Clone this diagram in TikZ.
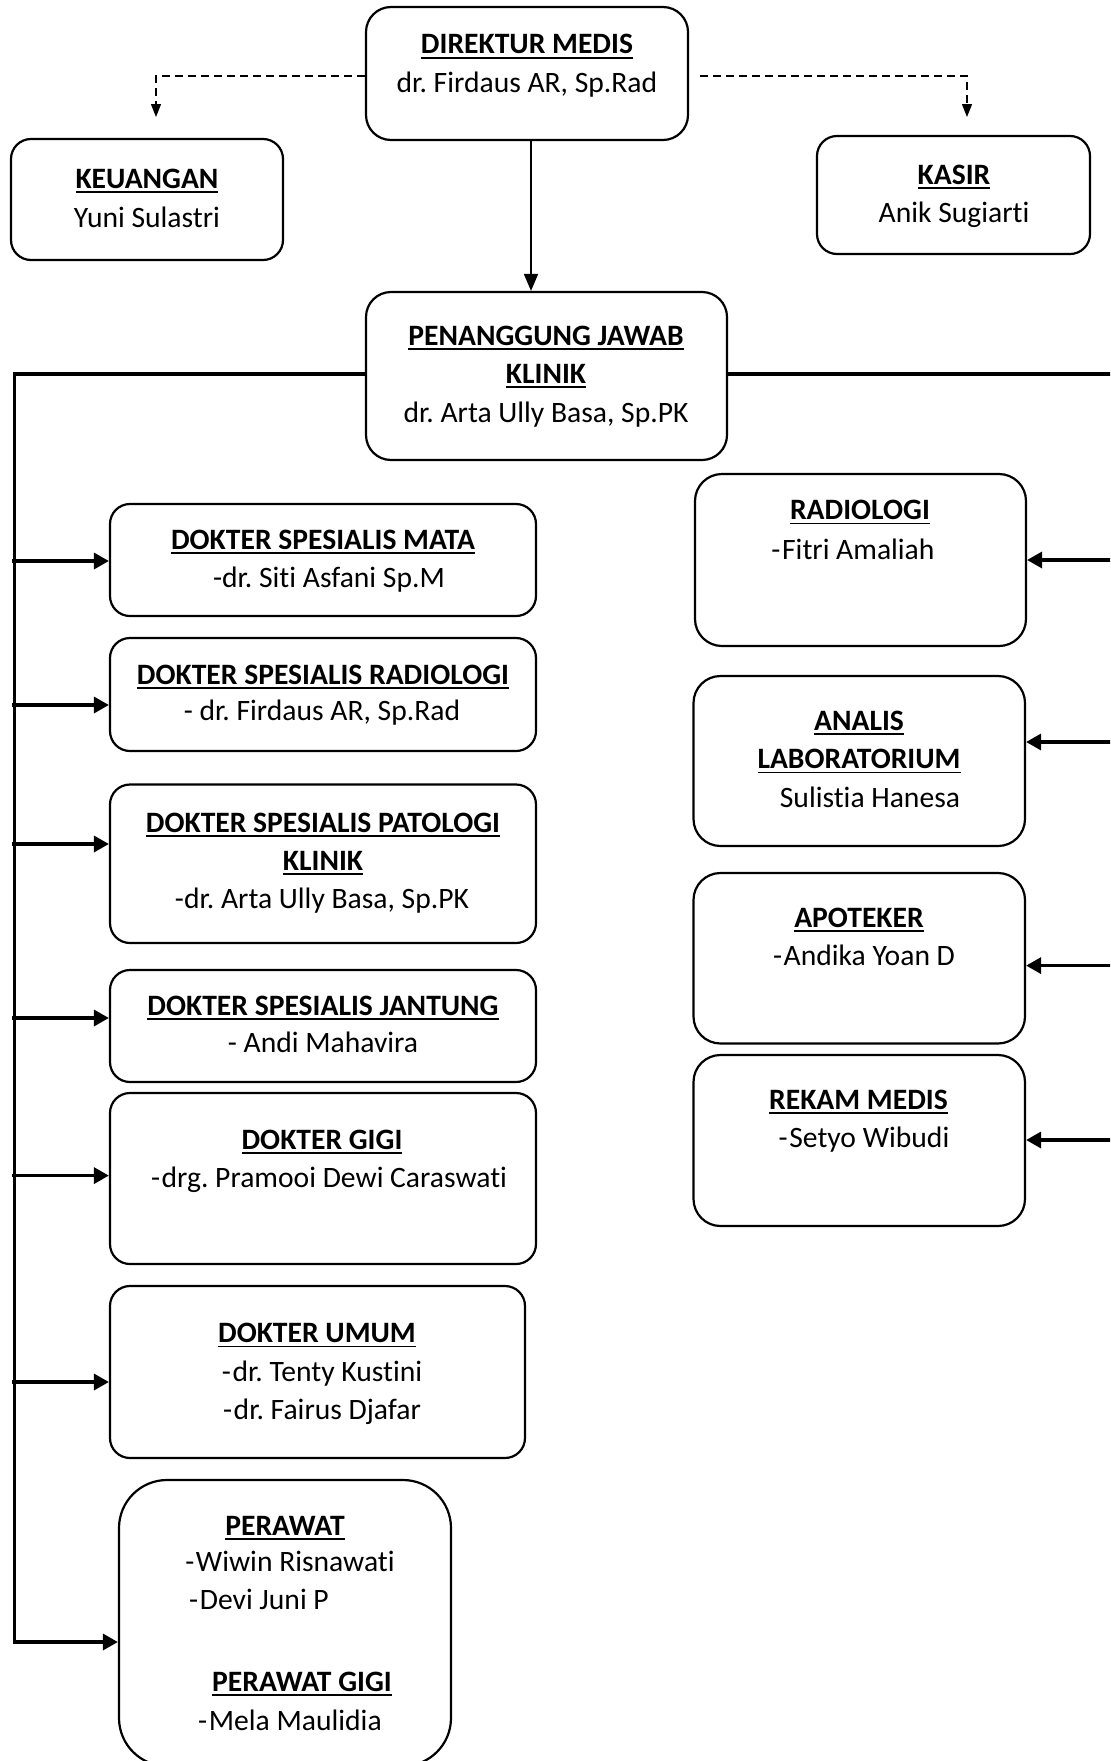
\documentclass[tikz,border=0pt]{standalone}
\usepackage{fontspec}
\setmainfont{Carlito}[Ligatures={NoCommon,NoContextual}]
\usetikzlibrary{arrows.meta}
\frenchspacing
\newcommand{\ulb}[1]{\setbox0\hbox{\bfseries #1}\leavevmode\rlap{\rule[-2.4pt]{\wd0}{0.85pt}}\box0}
\newcommand{\dsh}{-\kern0.8pt}
\tikzset{
  box/.style={draw, line width=1.1pt, rounded corners=10pt, inner sep=0pt},
  wh/.style 2 args={minimum width=#1*0.5pt, minimum height=#2*0.5pt},
  txt/.style={anchor=base, inner sep=0pt, font=\fontsize{14.8pt}{19pt}\selectfont},
  trunk/.style={line width=1.65pt, line join=miter},
  branch/.style={line width=1.65pt, -{Triangle[length=7.5pt,width=8pt]}},
  thinarrow/.style={line width=0.9pt, -{Triangle[length=8.5pt,width=7pt]}},
  dasharrow/.style={line width=0.7pt, dash pattern=on 4pt off 2.5pt, -{Triangle[length=6.5pt,width=5pt]}}
}
\begin{document}
\begin{tikzpicture}[x=0.5pt,y=-0.5pt]
\clip (0,0) rectangle (1110,1761);
\fill[white] (0,0) rectangle (1110,1761);

% boxes
\node[box, rounded corners=12.5pt, wh={322}{133}] (dir) at (527,73.5) {};
\node[box, wh={272}{121}] (keu) at (147,199.5) {};
\node[box, wh={273}{118}] (kas) at (953.5,195) {};
\node[box, rounded corners=12.5pt, wh={361}{168}] (pj) at (546.5,376) {};
\node[box, wh={426}{112}] (mata) at (323,560) {};
\node[box, wh={426}{113}] (rad) at (323,694.5) {};
\node[box, wh={426}{158.5}] (pat) at (323,863.75) {};
\node[box, wh={426}{112}] (jan) at (323,1026) {};
\node[box, wh={426}{171}] (gigi) at (323,1178.5) {};
\node[box, wh={415}{172}] (umum) at (317.5,1372) {};
\node[box, rounded corners=24pt, wh={332}{286}] (per) at (285,1623) {};
\node[box, rounded corners=13.5pt, wh={331}{172}] (rrad) at (860.5,560) {};
\node[box, rounded corners=13.5pt, wh={331.5}{170}] (ana) at (859.25,761) {};
\node[box, rounded corners=13.5pt, wh={331.5}{170.5}] (apo) at (859.25,958.25) {};
\node[box, rounded corners=13.5pt, wh={331.5}{171}] (rek) at (859.25,1140.5) {};

% texts
\node[txt] (dir1) at (527,54) {\ulb{DIREKTUR MEDIS}};
\node[txt] (dir2) at (527,92) {dr. Firdaus AR, Sp.Rad};
\node[txt] (keu1) at (147,188) {\ulb{KEUANGAN}};
\node[txt] (keu2) at (147,227.5) {Yuni Sulastri};
\node[txt] (kas1) at (954,184) {\ulb{KASIR}};
\node[txt] (kas2) at (954,222) {Anik Sugiarti};
\node[txt] (pj1) at (546,345) {\ulb{PENANGGUNG JAWAB}};
\node[txt] (pj2) at (546,383) {\ulb{KLINIK}};
\node[txt] (pj3) at (546,422) {dr. Arta Ully Basa, Sp.PK};
\node[txt] (mata1) at (323,549) {\ulb{DOKTER SPESIALIS MATA}};
\node[txt] (mata2) at (329,587) {-dr. Siti Asfani Sp.M};
\node[txt] (rad1) at (323,684) {\ulb{DOKTER SPESIALIS RADIOLOGI}};
\node[txt] (rad2) at (322,720) {- dr. Firdaus AR, Sp.Rad};
\node[txt] (pat1) at (323,832) {\ulb{DOKTER SPESIALIS PATOLOGI}};
\node[txt] (pat2) at (323,870) {\ulb{KLINIK}};
\node[txt] (pat3) at (322,908) {-dr. Arta Ully Basa, Sp.PK};
\node[txt] (jan1) at (323,1015) {\ulb{DOKTER SPESIALIS JANTUNG}};
\node[txt] (jan2) at (323,1052.5) {- Andi Mahavira};
\node[txt] (gigi1) at (322,1149) {\ulb{DOKTER GIGI}};
\node[txt] (gigi2) at (329,1187.5) {\dsh drg. Pramooi Dewi Caraswati};
\node[txt] (umum1) at (317,1342.5) {\ulb{DOKTER UMUM}};
\node[txt] (umum2) at (322,1381) {\dsh dr. Tenty Kustini};
\node[txt] (umum3) at (322,1419.5) {\dsh dr. Fairus Djafar};
\node[txt] (per1) at (285,1535) {\ulb{PERAWAT}};
\node[txt] (per2) at (290,1571) {\dsh Wiwin Risnawati};
\node[txt] (per3) at (259,1609) {\dsh Devi Juni P};
\node[txt] (per4) at (302,1691) {\ulb{PERAWAT GIGI}};
\node[txt] (per5) at (290,1730.5) {\dsh Mela Maulidia};
\node[txt] (rrad1) at (860,519.5) {\ulb{RADIOLOGI}};
\node[txt] (rrad2) at (853,559) {\dsh Fitri Amaliah};
\node[txt] (ana1) at (859,730) {\ulb{ANALIS}};
\node[txt] (ana2) at (859,768.5) {\ulb{LABORATORIUM}};
\node[txt] (ana3) at (870,807) {Sulistia Hanesa};
\node[txt] (apo1) at (859,927) {\ulb{APOTEKER}};
\node[txt] (apo2) at (864,965.5) {\dsh Andika Yoan D};
\node[txt] (rek1) at (858.5,1109) {\ulb{REKAM MEDIS}};
\node[txt] (rek2) at (864,1147) {\dsh Setyo Wibudi};

% coordinates
\coordinate (dl) at (156,117);
\coordinate (dr) at (967,117);
\coordinate (tl) at (14.7,374);
\coordinate (tb) at (14.7,1642);
\coordinate (tr) at (1115,374);
\coordinate (b1) at (12,561);
\coordinate (b2) at (12,705);
\coordinate (b3) at (12,844);
\coordinate (b4) at (12,1018);
\coordinate (b5) at (12,1175.6);
\coordinate (b6) at (12,1382);
\coordinate (r1) at (1115,560);
\coordinate (r2) at (1115,742);
\coordinate (r3) at (1115,965.6);
\coordinate (r4) at (1115,1140);

% connectors
\draw[dasharrow] ([yshift=-1.25pt]dir.west) -| (dl);
\draw[dasharrow] ([xshift=5.5pt,yshift=-1.25pt]dir.east) -| (dr);
\draw[thinarrow] ([xshift=2pt]dir.south) -- ([xshift=2pt]dir.south |- pj.north);
\draw[trunk] ([yshift=1pt]pj.west) -- (tl) -- (tb);
\draw[branch] ([xshift=-0.8pt]tb) -- (per.west |- tb);
\draw[trunk] ([yshift=1pt]pj.east) -- (tr);
\draw[branch] (b1) -- (mata.west |- b1);
\draw[branch] (b2) -- (rad.west |- b2);
\draw[branch] (b3) -- (pat.west |- b3);
\draw[branch] (b4) -- (jan.west |- b4);
\draw[branch] (b5) -- (gigi.west |- b5);
\draw[branch] (b6) -- (umum.west |- b6);
\draw[branch] (r1) -- (rrad.east |- r1);
\draw[branch] (r2) -- (ana.east |- r2);
\draw[branch] (r3) -- (apo.east |- r3);
\draw[branch] (r4) -- (rek.east |- r4);
\end{tikzpicture}
\end{document}
